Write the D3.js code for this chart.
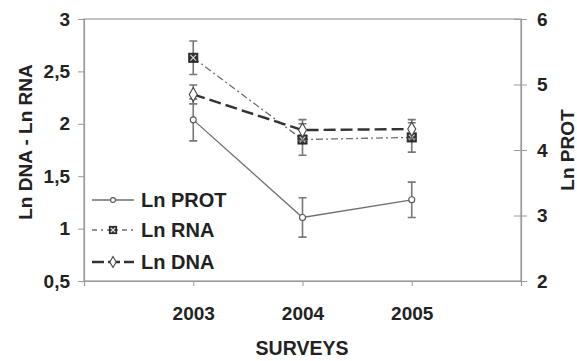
<!DOCTYPE html>
<html>
<head>
<meta charset="utf-8">
<script src="https://cdn.jsdelivr.net/npm/d3@7"></script>
<style>
  body { margin: 0; background: #fff; }
  text { font-family: "Liberation Sans", Arial, sans-serif; font-weight: bold; fill: #222; }
</style>
</head>
<body>
<svg id="chart" width="577" height="361"></svg>
<script>
// ------ Data
var years = [2003, 2004, 2005];
var rnaMean = [2.63, 1.85, 1.87];   // left axis
var rnaErr  = [0.16, 0.15, 0.14];
var dnaMean = [2.28, 1.94, 1.95];   // left axis
var dnaErr  = [0.09, 0.10, 0.09];
var protMean = [4.46, 2.97, 3.24];  // right axis
var protErr  = [0.32, 0.30, 0.27];
var leftTicks = [0.5, 1, 1.5, 2, 2.5, 3];
var rightTicks = [2, 3, 4, 5, 6];
var legendNames = ["Ln PROT", "Ln RNA", "Ln DNA"];

// Margins and sizes
var margin = {top: 19, right: 56, bottom: 80, left: 84},
    width = 577 - margin.left - margin.right,
    height = 361 - margin.top - margin.bottom;

var svg = d3.select("#chart")
  .append("g")
    .attr("transform", "translate(" + margin.left + "," + margin.top + ")");

// ------- Scales
var x = d3.scaleLinear().domain([2002, 2006]).range([0, width]);
var yL = d3.scaleLinear().domain([0.5, 3]).range([height, 0]);
var yR = d3.scaleLinear().domain([2, 6]).range([height, 0]);

var axisColor = "#9a9a9a";

// frame
svg.append("rect")
  .attr("width", width).attr("height", height)
  .attr("fill", "none").attr("stroke", axisColor).attr("stroke-width", 1.2);

// left axis
var gL = svg.append("g").call(d3.axisLeft(yL).tickValues(leftTicks).tickSize(6).tickPadding(8)
  .tickFormat(function(d) { return String(d).replace(".", ","); }));
// right axis
var gR = svg.append("g").attr("transform", "translate(" + width + ",0)")
  .call(d3.axisRight(yR).tickValues(rightTicks).tickSize(6).tickPadding(10).tickFormat(d3.format("d")));
gR.selectAll(".tick line").attr("x1", -7);
// bottom axis
var gB = svg.append("g").attr("transform", "translate(0," + height + ")")
  .call(d3.axisBottom(x).tickValues(years).tickSize(5).tickPadding(21).tickFormat(d3.format("d")));

[gL, gR, gB].forEach(function(g) {
  g.select(".domain").attr("stroke", axisColor).attr("stroke-width", 1.2);
  g.selectAll(".tick line").attr("stroke", axisColor);
  g.selectAll(".tick text").attr("font-size", 19).attr("font-family", null);
});

// axis titles
svg.append("text")
  .attr("transform", "translate(" + (25 - margin.left) + "," + (142 - margin.top) + ") rotate(-90)")
  .attr("text-anchor", "middle").attr("dy", "0.35em").attr("font-size", 19)
  .text("Ln DNA - Ln RNA");
svg.append("text")
  .attr("transform", "translate(" + (567 - margin.left) + "," + (150 - margin.top) + ") rotate(-90)")
  .attr("text-anchor", "middle").attr("dy", "0.35em").attr("font-size", 19)
  .text("Ln PROT");
svg.append("text")
  .attr("x", 302 - margin.left).attr("y", 348 - margin.top).attr("dy", "0.35em")
  .attr("text-anchor", "middle").attr("font-size", 19.5)
  .text("SURVEYS");

// ------ Series
var series = [
  {name: "Ln PROT", mean: protMean, err: protErr, y: yR, stroke: "#6e6e6e", width: 1.3, dash: null, marker: "circle"},
  {name: "Ln RNA", mean: rnaMean, err: rnaErr, y: yL, stroke: "#6e6e6e", width: 1.3, dash: "7,3,2,3", marker: "xsquare"},
  {name: "Ln DNA", mean: dnaMean, err: dnaErr, y: yL, stroke: "#333", width: 2.4, dash: "12,5", marker: "diamond"}
];

function drawMarker(g, type, cx, cy, k) {
  k = k || 1;
  if (type === "circle") {
    g.append("circle").attr("cx", cx).attr("cy", cy).attr("r", 3 * k)
      .attr("fill", "#fff").attr("stroke", "#555").attr("stroke-width", 1.1);
  } else if (type === "diamond") {
    g.append("path").attr("d", d3.symbol().type(d3.symbolDiamond).size(55 * k * k)())
      .attr("transform", "translate(" + cx + "," + cy + ")")
      .attr("fill", "#fff").attr("stroke", "#444").attr("stroke-width", 1.1);
  } else {
    var h = 4.5 * k, c = 2.8 * k;
    g.append("rect").attr("x", cx - h).attr("y", cy - h).attr("width", 2 * h).attr("height", 2 * h)
      .attr("fill", "#333").attr("stroke", "#222");
    g.append("path").attr("d", "M" + (cx - c) + "," + (cy - c) + "L" + (cx + c) + "," + (cy + c) +
        "M" + (cx + c) + "," + (cy - c) + "L" + (cx - c) + "," + (cy + c))
      .attr("stroke", "#ddd").attr("stroke-width", 1.1);
  }
}

series.forEach(function(s) {
  var g = svg.append("g");
  // error bars
  years.forEach(function(yr, i) {
    var cx = x(yr), top = s.y(s.mean[i] + s.err[i]), bot = s.y(s.mean[i] - s.err[i]);
    g.append("path")
      .attr("d", "M" + cx + "," + top + "V" + bot + "M" + (cx - 4) + "," + top + "H" + (cx + 4) +
          "M" + (cx - 4) + "," + bot + "H" + (cx + 4))
      .attr("stroke", "#777").attr("stroke-width", 1.6).attr("fill", "none");
  });
  // line
  var line = d3.line().x(function(d, i) { return x(years[i]); }).y(function(d) { return s.y(d); });
  g.append("path").datum(s.mean).attr("d", line)
    .attr("fill", "none").attr("stroke", s.stroke).attr("stroke-width", s.width)
    .attr("stroke-dasharray", s.dash);
  years.forEach(function(yr, i) { drawMarker(g, s.marker, x(yr), s.y(s.mean[i])); });
});

// ------ Legend
var legendRowY = [200, 230, 262];
var legendDash = [null, "5,4,2,4", "12,4"];
series.forEach(function(s, i) {
  var g = svg.append("g");
  var ly = legendRowY[i] - margin.top;
  g.append("line").attr("x1", 92 - margin.left).attr("x2", 134 - margin.left)
    .attr("y1", ly).attr("y2", ly)
    .attr("stroke", s.stroke).attr("stroke-width", s.width).attr("stroke-dasharray", legendDash[i]);
  drawMarker(g, s.marker, 113 - margin.left, ly, 0.8);
  g.append("text").attr("x", 141 - margin.left).attr("y", ly).attr("dy", "0.35em")
    .attr("font-size", 20).text(legendNames[i]);
});
</script>
</body>
</html>
